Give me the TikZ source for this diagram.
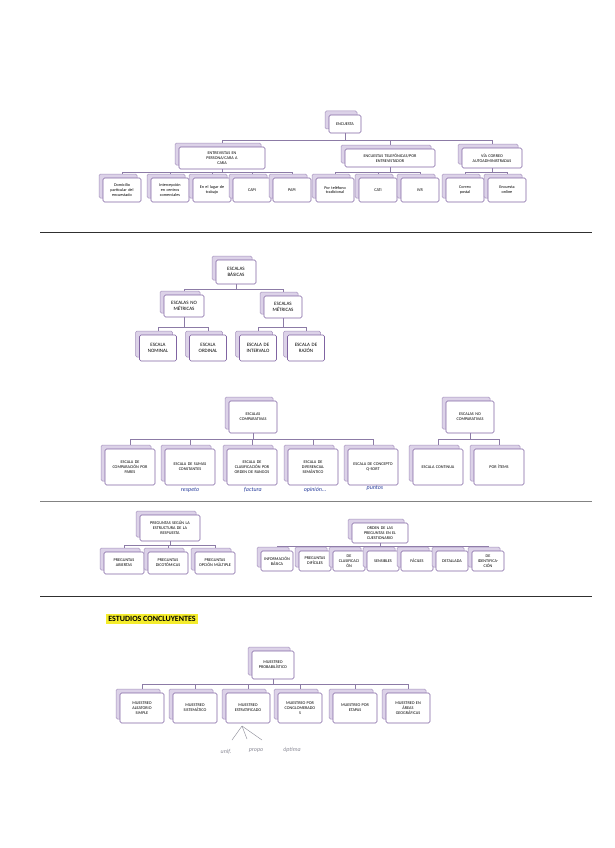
\documentclass[tikz,border=0pt]{standalone}
\usepackage{fontspec}
\setmainfont{Carlito}
\usetikzlibrary{arrows.meta, positioning, shadows, backgrounds}
\definecolor{cbox}{HTML}{8064A2}
\definecolor{cshade}{HTML}{DCD2E8}
\definecolor{clink}{HTML}{8C7BA6}
\definecolor{cink}{HTML}{2A3F9E}
\definecolor{cpencil}{HTML}{8A8A96}
\definecolor{chigh}{HTML}{F4EC2C}
\definecolor{crule}{HTML}{303030}
\tikzset{
  every picture/.style={font=\fontsize{4.2}{4.8}\selectfont, line width=0.6pt},
  box/.style={draw=cbox, fill=white, rounded corners=1.5pt, align=center, inner sep=1pt,
    text width=#1, minimum height=20pt,
    copy shadow={shadow xshift=-4pt, shadow yshift=4pt, fill=cshade, draw=cbox!70, line width=0.5pt}},
  box/.default=36pt,
  link/.style={draw=clink, line width=0.9pt},
  hand/.style={text=cink, font=\itshape\fontsize{6}{7}\selectfont},
  pencil/.style={text=cpencil, draw=cpencil, line width=0.4pt, font=\itshape\fontsize{6}{7}\selectfont},
  rule/.style={draw=crule, line width=0.9pt},
}
\begin{document}
\begin{tikzpicture}[x=1pt, y=-1pt]
  \useasboundingbox (0,0) rectangle (615,848);
  \begin{scope}[on background layer]
    \fill[white] (0,0) rectangle (615,848);
  \end{scope}
  % encuesta
  \node[box=30pt, minimum height=18pt] (enc) at (345,124) {ENCUESTA};
  \node[box=84pt, minimum height=22pt] (cara) at (222,158) {ENTREVISTAS EN\\ PERSONA/CARA A\\ CARA};
  \node[box=88pt, minimum height=18pt] (tel) at (390,158) {ENCUESTAS TELEFÓNICAS/POR\\ ENTREVISTADOR};
  \node[box=58pt, minimum height=20pt] (auto) at (492,158) {VÍA CORREO\\ AUTOADMINISTRADAS};
  \node[box, minimum height=24pt] (hog) at (122,190) {Domicilio\\ particular del\\ encuestado};
  \node[box, minimum height=24pt] (cc) at (170,190) {Intercepción\\ en centros\\ comerciales};
  \node[box, minimum height=24pt] (emp) at (212,190) {En el lugar de\\ trabajo};
  \node[box, minimum height=24pt] (capi) at (252,190) {CAPI};
  \node[box, minimum height=24pt] (papi) at (292,190) {PAPI};
  \node[box, minimum height=24pt] (trad) at (335,190) {Por teléfono\\ tradicional};
  \node[box, minimum height=24pt] (cati) at (378,190) {CATI};
  \node[box, minimum height=24pt] (ivr) at (420,190) {IVR};
  \node[box, minimum height=24pt] (post) at (465,190) {Correo\\ postal};
  \node[box, minimum height=24pt] (onl) at (507,190) {Encuesta\\ online};
  \draw[rule] (40,232) -- (592,232);
  % escalas basicas
  \begin{scope}[every node/.append style={font=\fontsize{5}{5.8}\selectfont}]
    \node[box=38pt, minimum height=24pt] (bas) at (236,272) {ESCALAS\\ BÁSICAS};
    \node[box=38pt, minimum height=22pt] (nomet) at (184,306) {ESCALAS NO\\ MÉTRICAS};
    \node[box=36pt, minimum height=22pt] (met) at (283,307) {ESCALAS\\ MÉTRICAS};
    \node[box=35pt, minimum height=26pt] (enom) at (158,348) {ESCALA\\ NOMINAL};
    \node[box=35pt, minimum height=26pt] (eord) at (208,348) {ESCALA\\ ORDINAL};
    \node[box=35pt, minimum height=26pt] (eint) at (258,348) {ESCALA DE\\ INTERVALO};
    \node[box=35pt, minimum height=26pt] (eraz) at (306,348) {ESCALA DE\\ RAZÓN};
  \end{scope}
  % comparativas
  \node[box=46pt, minimum height=32pt] (comp) at (253,417) {ESCALAS\\ COMPARATIVAS};
  \node[box=48pt, minimum height=36pt] (pares) at (130,467) {ESCALA DE\\ COMPARACIÓN POR\\ PARES};
  \node[box=48pt, minimum height=36pt] (sumas) at (190,467) {ESCALA DE SUMAS\\ CONSTANTES};
  \node[box=48pt, minimum height=36pt] (rango) at (252,467) {ESCALA DE\\ CLASIFICACIÓN POR\\ ORDEN DE RANGOS};
  \node[box=48pt, minimum height=36pt] (difer) at (313,467) {ESCALA DE\\ DIFERENCIAL\\ SEMÁNTICO};
  \node[box=48pt, minimum height=36pt] (qsort) at (373,467) {ESCALA DE CONCEPTO\\ Q-SORT};
  \node[hand] (h1) at (190,490) {respeto};
  \node[hand] (h2) at (253,490) {factura};
  \node[hand] (h3) at (315,490) {opinión\dots};
  \node[hand] (h4) at (375,488) {puntos};
  \node[box=46pt, minimum height=32pt] (ncomp) at (470,417) {ESCALAS NO\\ COMPARATIVAS};
  \node[box=48pt, minimum height=36pt] (cont) at (438,467) {ESCALA CONTINUA};
  \node[box=48pt, minimum height=36pt] (item) at (499,467) {POR ÍTEMS};
  \draw[draw=crule!60, line width=0.6pt] (40,501) -- (592,501);
  % preguntas
  \node[box=58pt, minimum height=26pt] (forma) at (170,528) {PREGUNTAS SEGÚN LA\\ ESTRUCTURA DE LA\\ RESPUESTA};
  \node[box=38pt, minimum height=22pt] (abier) at (124,563) {PREGUNTAS\\ ABIERTAS};
  \node[box=38pt, minimum height=22pt] (dicot) at (168,563) {PREGUNTAS\\ DICOTÓMICAS};
  \node[box=38pt, minimum height=22pt] (multi) at (215,563) {PREGUNTAS\\ OPCIÓN MÚLTIPLE};
  \node[box=54pt, minimum height=20pt] (orden) at (380,533) {ORDEN DE LAS\\ PREGUNTAS EN EL\\ CUESTIONARIO};
  \node[box=30pt, minimum height=20pt] (basi) at (277,561) {INFORMACIÓN\\ BÁSICA};
  \node[box=30pt, minimum height=20pt] (difi) at (315,561) {PREGUNTAS\\ DIFÍCILES};
  \node[box=30pt, minimum height=20pt] (clas) at (349,561) {DE\\ CLASIFICACI\\ ÓN};
  \node[box=30pt, minimum height=20pt] (sens) at (383,561) {SENSIBLES};
  \node[box=30pt, minimum height=20pt] (faci) at (417,561) {FÁCILES};
  \node[box=30pt, minimum height=20pt] (deta) at (452,561) {DETALLADA};
  \node[box=30pt, minimum height=20pt] (iden) at (488,561) {DE\\ IDENTIFICA-\\ CIÓN};
  \draw[rule] (40,596) -- (592,596);
  % estudios concluyentes
  \node[fill=chigh, inner sep=2pt, font=\bfseries\fontsize{8}{9}\selectfont] (titulo) at (152,619) {ESTUDIOS CONCLUYENTES};
  \node[box=40pt, minimum height=28pt] (prob) at (273,665) {MUESTREO\\ PROBABILÍSTICO};
  \node[box=42pt, minimum height=30pt] (mas) at (142,708) {MUESTREO\\ ALEATORIO\\ SIMPLE};
  \node[box=42pt, minimum height=30pt] (sist) at (195,708) {MUESTREO\\ SISTEMÁTICO};
  \node[box=42pt, minimum height=30pt] (estr) at (248,708) {MUESTREO\\ ESTRATIFICADO};
  \node[box=42pt, minimum height=30pt] (cong) at (300,708) {MUESTREO POR\\ CONGLOMERADO\\ S};
  \node[box=42pt, minimum height=30pt] (etap) at (355,708) {MUESTREO POR\\ ETAPAS};
  \node[box=42pt, minimum height=30pt] (area) at (408,708) {MUESTREO EN\\ ÁREAS\\ GEOGRÁFICAS};
  \coordinate (apex) at (242,726);
  \node[pencil, draw=none] (u1) at (226,752) {unif.};
  \node[pencil, draw=none] (u2) at (256,751) {propo};
  \node[pencil, draw=none] (u3) at (292,750) {óptima};
  \draw[pencil] (apex) -- (232,740);
  \draw[pencil] (apex) -- (247,739);
  \draw[pencil] (apex) -- (262,740);
  % links
  \begin{scope}[on background layer]
    \foreach \c in {cara,tel,auto} \draw[link] (enc.south) -- ++(0,7) -| (\c.north);
    \foreach \c in {hog,cc,emp,capi,papi} \draw[link] (cara.south) -- ++(0,3) -| (\c.north);
    \foreach \c in {trad,cati,ivr} \draw[link] (tel.south) -- ++(0,5) -| (\c.north);
    \foreach \c in {post,onl} \draw[link] (auto.south) -- ++(0,4) -| (\c.north);
    \foreach \c in {nomet,met} \draw[link] (bas.south) -- ++(0,5) -| (\c.north);
    \foreach \c in {enom,eord} \draw[link] (nomet.south) -- ++(0,10) -| (\c.north);
    \foreach \c in {eint,eraz} \draw[link] (met.south) -- ++(0,9) -| (\c.north);
    \foreach \c in {pares,sumas,rango,difer,qsort} \draw[link] (comp.south) -- ++(0,6) -| (\c.north);
    \foreach \c in {cont,item} \draw[link] (ncomp.south) -- ++(0,6) -| (\c.north);
    \foreach \c in {abier,dicot,multi} \draw[link] (forma.south) -- ++(0,4) -| (\c.north);
    \foreach \c in {basi,difi,clas,sens,faci,deta,iden} \draw[link] (orden.south) -- ++(0,3) -| (\c.north);
    \foreach \c in {mas,sist,estr,cong,etap,area} \draw[link] (prob.south) -- ++(0,5) -| (\c.north);
  \end{scope}
\end{tikzpicture}
\end{document}
